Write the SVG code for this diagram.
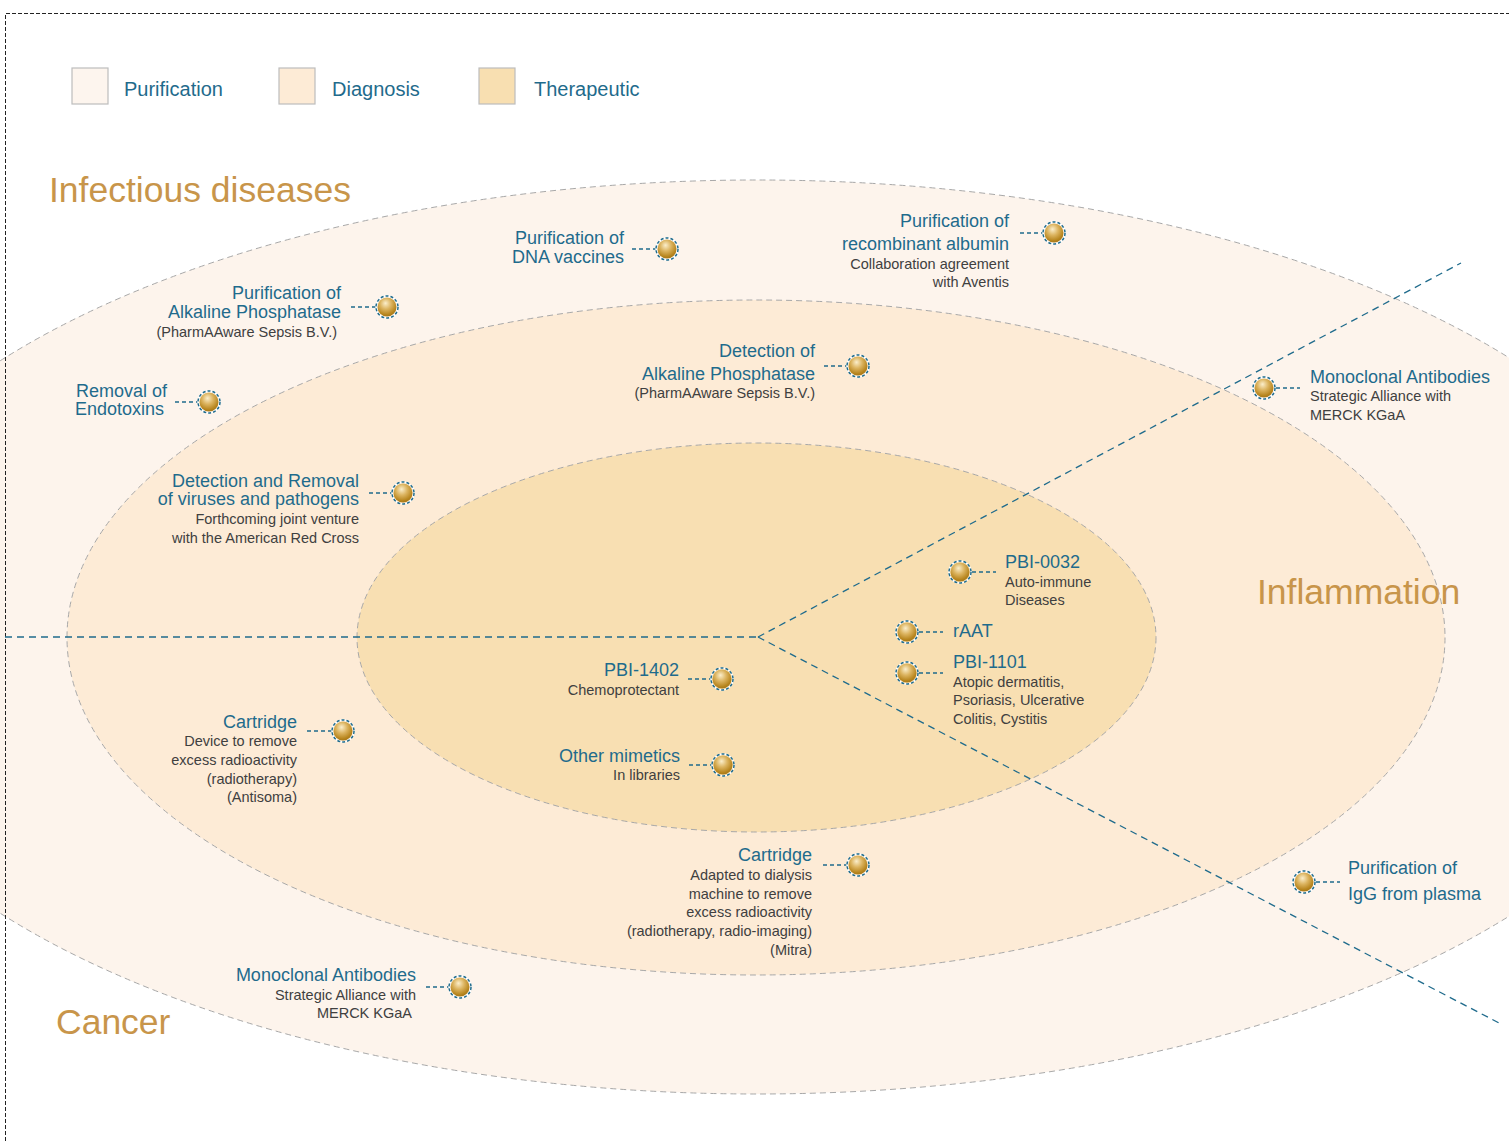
<svg xmlns="http://www.w3.org/2000/svg" width="1509" height="1141" viewBox="0 0 1509 1141">
<defs>
<radialGradient id="gold" cx="0.45" cy="0.35" r="0.65" fx="0.42" fy="0.3">
<stop offset="0" stop-color="#fbeecb"/>
<stop offset="0.45" stop-color="#dcb460"/>
<stop offset="0.85" stop-color="#b8861f"/>
<stop offset="1" stop-color="#a67818"/>
</radialGradient>
<style>
.t{font-family:"Liberation Sans",Arial,sans-serif;fill:#1f6b8c;font-size:18px}
.s{font-family:"Liberation Sans",Arial,sans-serif;fill:#404040;font-size:14.5px}
.r{text-anchor:end}
.cat{font-family:"Liberation Sans",Arial,sans-serif;fill:#c8954a;font-size:35.5px}
.leg{font-family:"Liberation Sans",Arial,sans-serif;fill:#1f6b8c;font-size:20px}
.lbox{stroke:#bdbdbd;stroke-width:1.2}
.ell{stroke:#a8a8a8;stroke-width:1;stroke-dasharray:6 4}
.div{fill:none;stroke:#1f6b8c;stroke-width:1.3;stroke-dasharray:7 5}
.lead{fill:none;stroke:#1f6b8c;stroke-width:1.3;stroke-dasharray:4 3}
.bead{fill:url(#gold)}
.ringw{fill:none;stroke:#ffffff;stroke-width:1.5}
.ring{fill:none;stroke:#1f6b8c;stroke-width:1.5;stroke-dasharray:3 2}
</style>
</defs>
<rect x="0" y="0" width="1509" height="1141" fill="#ffffff"/>

<g id="legend">
<rect class="lbox" x="72" y="68" width="36" height="36" fill="#fdf5ee"/>
<text class="leg" x="124" y="96">Purification</text>
<rect class="lbox" x="279" y="68" width="36" height="36" fill="#fdebd6"/>
<text class="leg" x="332" y="96">Diagnosis</text>
<rect class="lbox" x="479" y="68" width="36" height="36" fill="#f8dfb1"/>
<text class="leg" x="534" y="96">Therapeutic</text>
</g>

<g id="zones">
<ellipse class="ell" cx="757" cy="637" rx="950" ry="457" fill="#fdf4ec"/>
<ellipse class="ell" cx="756" cy="637.5" rx="689" ry="337.5" fill="#fdebd6"/>
<ellipse class="ell" cx="756.5" cy="637.5" rx="399.5" ry="194.5" fill="#f8dfb2"/>
</g>

<path id="frame" d="M5.5,1141 V13.5 H1509" fill="none" stroke="#222" stroke-width="1" stroke-dasharray="4 2"/>

<g id="dividers">
<line class="div" x1="5" y1="637" x2="758" y2="637"/>
<line class="div" x1="758" y1="637" x2="1461" y2="263"/>
<line class="div" x1="758" y1="637" x2="1501" y2="1024"/>
</g>

<g id="categories">
<text class="cat" x="49" y="202">Infectious diseases</text>
<text class="cat" x="1257" y="604">Inflammation</text>
<text class="cat" x="56" y="1034">Cancer</text>
</g>

<g id="connectors">
<line class="lead" x1="632" y1="249" x2="656" y2="249"/>
<line class="lead" x1="1020" y1="233" x2="1043" y2="233"/>
<line class="lead" x1="351" y1="307" x2="376" y2="307"/>
<line class="lead" x1="175" y1="402" x2="198" y2="402"/>
<line class="lead" x1="824" y1="366" x2="847" y2="366"/>
<line class="lead" x1="369" y1="493" x2="392" y2="493"/>
<line class="lead" x1="1276" y1="388" x2="1300" y2="388"/>
<line class="lead" x1="972" y1="572" x2="996" y2="572"/>
<line class="lead" x1="919" y1="632" x2="943" y2="632"/>
<line class="lead" x1="919" y1="673" x2="943" y2="673"/>
<line class="lead" x1="688" y1="679" x2="711" y2="679"/>
<line class="lead" x1="689" y1="765" x2="712" y2="765"/>
<line class="lead" x1="307" y1="731" x2="332" y2="731"/>
<line class="lead" x1="823" y1="865" x2="847" y2="865"/>
<line class="lead" x1="426" y1="987" x2="449" y2="987"/>
<line class="lead" x1="1316" y1="882" x2="1340" y2="882"/>
</g>

<g id="node-dna-vaccines">
<text class="t r" x="624" y="244">Purification of</text>
<text class="t r" x="624" y="263">DNA vaccines</text>
<circle class="bead" cx="667" cy="249" r="9.5"/><circle class="ringw" cx="667" cy="249" r="11"/><circle class="ring" cx="667" cy="249" r="11"/>
</g>

<g id="node-albumin">
<text class="t r" x="1009" y="227">Purification of</text>
<text class="t r" x="1009" y="250">recombinant albumin</text>
<text class="s r" x="1009" y="269">Collaboration agreement</text>
<text class="s r" x="1009" y="287">with Aventis</text>
<circle class="bead" cx="1054" cy="233" r="9.5"/><circle class="ringw" cx="1054" cy="233" r="11"/><circle class="ring" cx="1054" cy="233" r="11"/>
</g>

<g id="node-purif-alkaline">
<text class="t r" x="341" y="299">Purification of</text>
<text class="t r" x="341" y="318">Alkaline Phosphatase</text>
<text class="s r" x="337" y="337">(PharmAAware Sepsis B.V.)</text>
<circle class="bead" cx="387" cy="307" r="9.5"/><circle class="ringw" cx="387" cy="307" r="11"/><circle class="ring" cx="387" cy="307" r="11"/>
</g>

<g id="node-endotoxins">
<text class="t" x="76" y="397">Removal of</text>
<text class="t" x="75" y="415">Endotoxins</text>
<circle class="bead" cx="209" cy="402" r="9.5"/><circle class="ringw" cx="209" cy="402" r="11"/><circle class="ring" cx="209" cy="402" r="11"/>
</g>

<g id="node-detect-alkaline">
<text class="t r" x="815" y="357">Detection of</text>
<text class="t r" x="815" y="380">Alkaline Phosphatase</text>
<text class="s r" x="815" y="398">(PharmAAware Sepsis B.V.)</text>
<circle class="bead" cx="858" cy="366" r="9.5"/><circle class="ringw" cx="858" cy="366" r="11"/><circle class="ring" cx="858" cy="366" r="11"/>
</g>

<g id="node-viruses">
<text class="t r" x="359" y="487">Detection and Removal</text>
<text class="t r" x="359" y="505">of viruses and pathogens</text>
<text class="s r" x="359" y="524">Forthcoming joint venture</text>
<text class="s r" x="359" y="543">with the American Red Cross</text>
<circle class="bead" cx="403" cy="493" r="9.5"/><circle class="ringw" cx="403" cy="493" r="11"/><circle class="ring" cx="403" cy="493" r="11"/>
</g>

<g id="node-mab-inflammation">
<text class="t" x="1310" y="383">Monoclonal Antibodies</text>
<text class="s" x="1310" y="401">Strategic Alliance with</text>
<text class="s" x="1310" y="420">MERCK KGaA</text>
<circle class="bead" cx="1264" cy="388" r="9.5"/><circle class="ringw" cx="1264" cy="388" r="11"/><circle class="ring" cx="1264" cy="388" r="11"/>
</g>

<g id="node-pbi-0032">
<text class="t" x="1005" y="568">PBI-0032</text>
<text class="s" x="1005" y="587">Auto-immune</text>
<text class="s" x="1005" y="605">Diseases</text>
<circle class="bead" cx="960" cy="572" r="9.5"/><circle class="ringw" cx="960" cy="572" r="11"/><circle class="ring" cx="960" cy="572" r="11"/>
</g>

<g id="node-raat">
<text class="t" x="953" y="637">rAAT</text>
<circle class="bead" cx="907" cy="632" r="9.5"/><circle class="ringw" cx="907" cy="632" r="11"/><circle class="ring" cx="907" cy="632" r="11"/>
</g>

<g id="node-pbi-1101">
<text class="t" x="953" y="668">PBI-1101</text>
<text class="s" x="953" y="687">Atopic dermatitis,</text>
<text class="s" x="953" y="705">Psoriasis, Ulcerative</text>
<text class="s" x="953" y="724">Colitis, Cystitis</text>
<circle class="bead" cx="907" cy="673" r="9.5"/><circle class="ringw" cx="907" cy="673" r="11"/><circle class="ring" cx="907" cy="673" r="11"/>
</g>

<g id="node-pbi-1402">
<text class="t r" x="679" y="676">PBI-1402</text>
<text class="s r" x="679" y="695">Chemoprotectant</text>
<circle class="bead" cx="722" cy="679" r="9.5"/><circle class="ringw" cx="722" cy="679" r="11"/><circle class="ring" cx="722" cy="679" r="11"/>
</g>

<g id="node-mimetics">
<text class="t r" x="680" y="762">Other mimetics</text>
<text class="s r" x="680" y="780">In libraries</text>
<circle class="bead" cx="723" cy="765" r="9.5"/><circle class="ringw" cx="723" cy="765" r="11"/><circle class="ring" cx="723" cy="765" r="11"/>
</g>

<g id="node-cartridge-antisoma">
<text class="t r" x="297" y="728">Cartridge</text>
<text class="s r" x="297" y="746">Device to remove</text>
<text class="s r" x="297" y="765">excess radioactivity</text>
<text class="s r" x="297" y="784">(radiotherapy)</text>
<text class="s r" x="297" y="802">(Antisoma)</text>
<circle class="bead" cx="343" cy="731" r="9.5"/><circle class="ringw" cx="343" cy="731" r="11"/><circle class="ring" cx="343" cy="731" r="11"/>
</g>

<g id="node-cartridge-mitra">
<text class="t r" x="812" y="861">Cartridge</text>
<text class="s r" x="812" y="880">Adapted to dialysis</text>
<text class="s r" x="812" y="899">machine to remove</text>
<text class="s r" x="812" y="917">excess radioactivity</text>
<text class="s r" x="812" y="936">(radiotherapy, radio-imaging)</text>
<text class="s r" x="812" y="955">(Mitra)</text>
<circle class="bead" cx="858" cy="865" r="9.5"/><circle class="ringw" cx="858" cy="865" r="11"/><circle class="ring" cx="858" cy="865" r="11"/>
</g>

<g id="node-mab-cancer">
<text class="t r" x="416" y="981">Monoclonal Antibodies</text>
<text class="s r" x="416" y="1000">Strategic Alliance with</text>
<text class="s r" x="412" y="1018">MERCK KGaA</text>
<circle class="bead" cx="460" cy="987" r="9.5"/><circle class="ringw" cx="460" cy="987" r="11"/><circle class="ring" cx="460" cy="987" r="11"/>
</g>

<g id="node-igg">
<text class="t" x="1348" y="874">Purification of</text>
<text class="t" x="1348" y="900">IgG from plasma</text>
<circle class="bead" cx="1304" cy="882" r="9.5"/><circle class="ringw" cx="1304" cy="882" r="11"/><circle class="ring" cx="1304" cy="882" r="11"/>
</g>
</svg>
